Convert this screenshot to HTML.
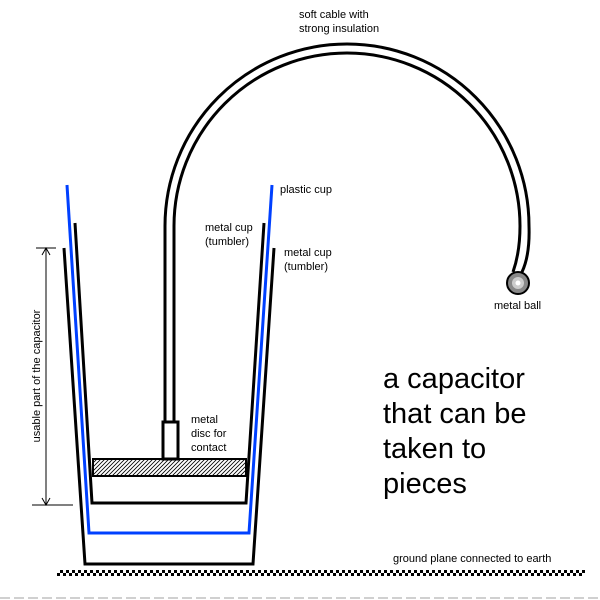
<!DOCTYPE html>
<html><head><style>body{margin:0;background:#fff}svg{display:block}text{font-family:"Liberation Sans",sans-serif;fill:#000}</style></head>
<body>
<svg width="600" height="600" viewBox="0 0 600 600" xmlns="http://www.w3.org/2000/svg">
<defs>
<pattern id="h" width="4" height="4" patternUnits="userSpaceOnUse"><path d="M-1,5 L5,-1 M-1,1 L1,-1 M3,5 L5,3" stroke="#000" stroke-width="0.8"/></pattern>
<pattern id="ck" width="6" height="6" patternUnits="userSpaceOnUse"><rect width="3" height="3" fill="#000"/><rect x="3" y="3" width="3" height="3" fill="#000"/></pattern>
</defs>
<path d="M165,422 L165,226 A182,182 0 0 1 529,226 Q530,255 522,272" fill="none" stroke="#000" stroke-width="3"/>
<path d="M174,422 L174,226 A173,173 0 0 1 520,226 Q520,252 513,272" fill="none" stroke="#000" stroke-width="3"/>
<circle cx="518" cy="283" r="11" fill="#888" stroke="#000" stroke-width="2"/>
<circle cx="518" cy="283" r="6" fill="#ccc"/>
<circle cx="518" cy="283" r="2.5" fill="#fff"/>
<path d="M64,248 L85,564 L253,564 L274,248" fill="none" stroke="#000" stroke-width="3"/>
<path d="M67,185 L89,533 L249,533 L272,185" fill="none" stroke="#0040ff" stroke-width="3"/>
<path d="M75,223 L92,503 L246,503 L264,223" fill="none" stroke="#000" stroke-width="3"/>
<rect x="93" y="459" width="153" height="17" fill="url(#h)" stroke="#000" stroke-width="2"/>
<rect x="163" y="422" width="15" height="37" fill="#fff" stroke="#000" stroke-width="3"/>
<line x1="46" y1="248" x2="46" y2="505" stroke="#000" stroke-width="1"/>
<line x1="36" y1="248" x2="56" y2="248" stroke="#000" stroke-width="1"/>
<line x1="32" y1="505" x2="73" y2="505" stroke="#000" stroke-width="1"/>
<path d="M42,255 L46,248 L50,255 M42,498 L46,505 L50,498" fill="none" stroke="#000" stroke-width="1"/>
<text transform="translate(40,376) rotate(-90)" font-size="11" text-anchor="middle">usable part of the capacitor</text>
<rect x="57" y="570" width="528" height="6" fill="url(#ck)"/>
<line x1="0" y1="598" x2="600" y2="598" stroke="#d0d0d0" stroke-width="2" stroke-dasharray="10,4"/>
<text x="299" y="18" font-size="11">soft cable with</text>
<text x="299" y="32" font-size="11">strong insulation</text>
<text x="280" y="193" font-size="11">plastic cup</text>
<text x="205" y="231" font-size="11">metal cup</text>
<text x="205" y="245" font-size="11">(tumbler)</text>
<text x="284" y="256" font-size="11">metal cup</text>
<text x="284" y="270" font-size="11">(tumbler)</text>
<text x="494" y="309" font-size="11">metal ball</text>
<text x="191" y="423" font-size="11">metal</text>
<text x="191" y="437" font-size="11">disc for</text>
<text x="191" y="451" font-size="11">contact</text>
<text x="393" y="562" font-size="11">ground plane connected to earth</text>
<text x="383" y="388" font-size="29">a capacitor</text>
<text x="383" y="423" font-size="29">that can be</text>
<text x="383" y="458" font-size="29">taken to</text>
<text x="383" y="493" font-size="29">pieces</text>
</svg>
</body></html>
